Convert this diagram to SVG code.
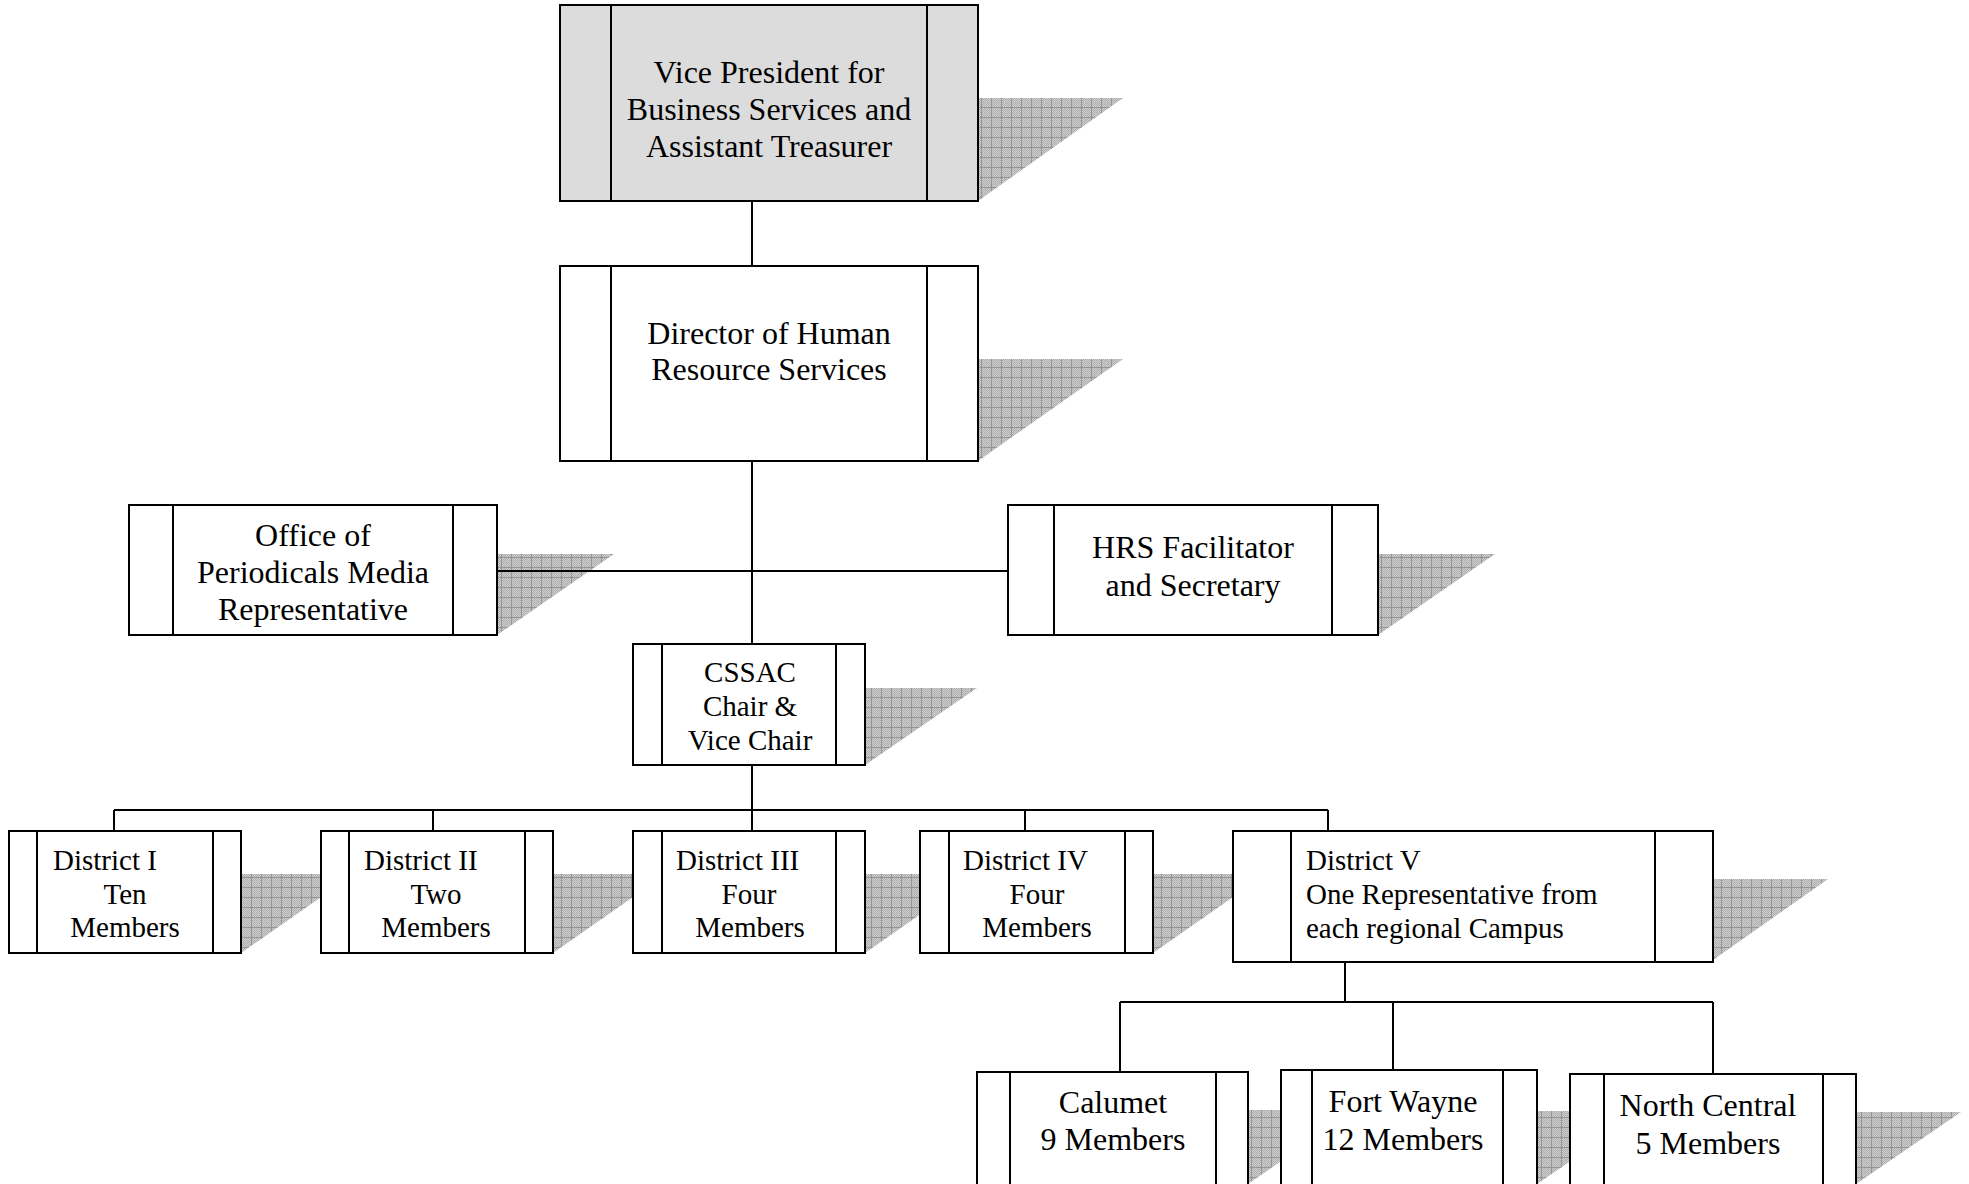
<svg xmlns="http://www.w3.org/2000/svg" width="1969" height="1184" viewBox="0 0 1969 1184">
<style>
.box{fill:#ffffff;stroke:#000;stroke-width:2}
.vp{fill:#dcdcdc}
.in{stroke:#000;stroke-width:2}
.sh{fill:url(#hatch);stroke:none}
.t32{font-family:"Liberation Serif","Times New Roman",serif;font-size:32px;fill:#000}
.t29{font-family:"Liberation Serif","Times New Roman",serif;font-size:29px;fill:#000}
.c{text-anchor:middle}
.conn{stroke:#000;stroke-width:2;fill:none}
</style>
<defs>
<pattern id="dots" patternUnits="userSpaceOnUse" width="2" height="2">
<rect width="2" height="2" fill="#cecece"/>
<rect width="1" height="1" fill="#aeaeae"/>
<rect x="1" y="1" width="1" height="1" fill="#aeaeae"/>
</pattern>
<pattern id="hatch" patternUnits="userSpaceOnUse" width="10" height="10" x="1" y="7">
<rect width="10" height="10" fill="url(#dots)"/>
<path d="M0 0.5H10M0.5 0V10" stroke="#959595" stroke-width="1"/>
</pattern>
</defs>

<g id="vp">
<polygon class="sh" points="978,98 1123,98 978,201"/>
<rect class="box vp" x="560" y="5" width="418" height="196"/>
<line class="in" x1="611" y1="5" x2="611" y2="201"/>
<line class="in" x1="927" y1="5" x2="927" y2="201"/>
<text class="t32 c"><tspan x="769" y="83">Vice President for</tspan><tspan x="769" y="120">Business Services and</tspan><tspan x="769" y="157">Assistant Treasurer</tspan></text>
</g>

<g id="director">
<polygon class="sh" points="978,359 1123,359 978,461"/>
<rect class="box" x="560" y="266" width="418" height="195"/>
<line class="in" x1="611" y1="266" x2="611" y2="461"/>
<line class="in" x1="927" y1="266" x2="927" y2="461"/>
<text class="t32 c"><tspan x="769" y="344">Director of Human</tspan><tspan x="769" y="380">Resource Services</tspan></text>
</g>

<g id="office">
<polygon class="sh" points="497,554 614,554 497,635"/>
<rect class="box" x="129" y="505" width="368" height="130"/>
<line class="in" x1="173" y1="505" x2="173" y2="635"/>
<line class="in" x1="453" y1="505" x2="453" y2="635"/>
<text class="t32 c"><tspan x="313" y="546">Office of</tspan><tspan x="313" y="583">Periodicals Media</tspan><tspan x="313" y="620">Representative</tspan></text>
</g>

<g id="hrs">
<polygon class="sh" points="1378,554 1495,554 1378,635"/>
<rect class="box" x="1008" y="505" width="370" height="130"/>
<line class="in" x1="1054" y1="505" x2="1054" y2="635"/>
<line class="in" x1="1332" y1="505" x2="1332" y2="635"/>
<text class="t32 c"><tspan x="1193" y="558">HRS Facilitator</tspan><tspan x="1193" y="596">and Secretary</tspan></text>
</g>

<g id="cssac">
<polygon class="sh" points="865,688 977,688 865,765"/>
<rect class="box" x="633" y="644" width="232" height="121"/>
<line class="in" x1="662" y1="644" x2="662" y2="765"/>
<line class="in" x1="836" y1="644" x2="836" y2="765"/>
<text class="t29 c"><tspan x="750" y="682">CSSAC</tspan><tspan x="750" y="716">Chair &amp;</tspan><tspan x="750" y="750">Vice Chair</tspan></text>
</g>

<g id="district1">
<polygon class="sh" points="241,874 354,874 241,953"/>
<rect class="box" x="9" y="831" width="232" height="122"/>
<line class="in" x1="37" y1="831" x2="37" y2="953"/>
<line class="in" x1="213" y1="831" x2="213" y2="953"/>
<text class="t29"><tspan x="53" y="870">District I</tspan><tspan class="c" x="125" y="904">Ten</tspan><tspan class="c" x="125" y="937">Members</tspan></text>
</g>

<g id="district2">
<polygon class="sh" points="553,874 666,874 553,953"/>
<rect class="box" x="321" y="831" width="232" height="122"/>
<line class="in" x1="349" y1="831" x2="349" y2="953"/>
<line class="in" x1="525" y1="831" x2="525" y2="953"/>
<text class="t29"><tspan x="364" y="870">District II</tspan><tspan class="c" x="436" y="904">Two</tspan><tspan class="c" x="436" y="937">Members</tspan></text>
</g>

<g id="district3">
<polygon class="sh" points="865,874 978,874 865,953"/>
<rect class="box" x="633" y="831" width="232" height="122"/>
<line class="in" x1="662" y1="831" x2="662" y2="953"/>
<line class="in" x1="836" y1="831" x2="836" y2="953"/>
<text class="t29"><tspan x="676" y="870">District III</tspan><tspan class="c" x="749" y="904">Four</tspan><tspan class="c" x="750" y="937">Members</tspan></text>
</g>

<g id="district4">
<polygon class="sh" points="1153,874 1266,874 1153,953"/>
<rect class="box" x="920" y="831" width="233" height="122"/>
<line class="in" x1="949" y1="831" x2="949" y2="953"/>
<line class="in" x1="1125" y1="831" x2="1125" y2="953"/>
<text class="t29"><tspan x="963" y="870">District IV</tspan><tspan class="c" x="1037" y="904">Four</tspan><tspan class="c" x="1037" y="937">Members</tspan></text>
</g>

<g id="district5">
<polygon class="sh" points="1713,879 1828,879 1713,960"/>
<rect class="box" x="1233" y="831" width="480" height="131"/>
<line class="in" x1="1291" y1="831" x2="1291" y2="962"/>
<line class="in" x1="1655" y1="831" x2="1655" y2="962"/>
<text class="t29"><tspan x="1306" y="870">District V</tspan><tspan x="1306" y="904">One Representative from</tspan><tspan x="1306" y="938">each regional Campus</tspan></text>
</g>

<g id="calumet">
<polygon class="sh" points="1248,1110 1355,1110 1248,1184"/>
<rect class="box" x="977" y="1072" width="271" height="130"/>
<line class="in" x1="1010" y1="1072" x2="1010" y2="1202"/>
<line class="in" x1="1216" y1="1072" x2="1216" y2="1202"/>
<text class="t32 c"><tspan x="1113" y="1113">Calumet</tspan><tspan x="1113" y="1150">9 Members</tspan></text>
</g>

<g id="fortwayne">
<polygon class="sh" points="1537,1111 1644,1111 1537,1184"/>
<rect class="box" x="1281" y="1070" width="256" height="130"/>
<line class="in" x1="1312" y1="1070" x2="1312" y2="1200"/>
<line class="in" x1="1503" y1="1070" x2="1503" y2="1200"/>
<text class="t32 c"><tspan x="1403" y="1112">Fort Wayne</tspan><tspan x="1403" y="1150">12 Members</tspan></text>
</g>

<g id="northcentral">
<polygon class="sh" points="1856,1112 1961,1112 1856,1184"/>
<rect class="box" x="1570" y="1074" width="286" height="130"/>
<line class="in" x1="1604" y1="1074" x2="1604" y2="1204"/>
<line class="in" x1="1823" y1="1074" x2="1823" y2="1204"/>
<text class="t32 c"><tspan x="1708" y="1116">North Central</tspan><tspan x="1708" y="1154">5 Members</tspan></text>
</g>

<g id="connectors">
<line class="conn" x1="752" y1="201" x2="752" y2="266"/>
<line class="conn" x1="752" y1="461" x2="752" y2="644"/>
<line class="conn" x1="497" y1="571" x2="1008" y2="571"/>
<line class="conn" x1="752" y1="765" x2="752" y2="831"/>
<line class="conn" x1="114" y1="810" x2="1328" y2="810"/>
<line class="conn" x1="114" y1="810" x2="114" y2="831"/>
<line class="conn" x1="433" y1="810" x2="433" y2="831"/>
<line class="conn" x1="1025" y1="810" x2="1025" y2="831"/>
<line class="conn" x1="1328" y1="810" x2="1328" y2="831"/>
<line class="conn" x1="1345" y1="962" x2="1345" y2="1002"/>
<line class="conn" x1="1120" y1="1002" x2="1713" y2="1002"/>
<line class="conn" x1="1120" y1="1002" x2="1120" y2="1072"/>
<line class="conn" x1="1393" y1="1002" x2="1393" y2="1070"/>
<line class="conn" x1="1713" y1="1002" x2="1713" y2="1074"/>
</g>
</svg>
